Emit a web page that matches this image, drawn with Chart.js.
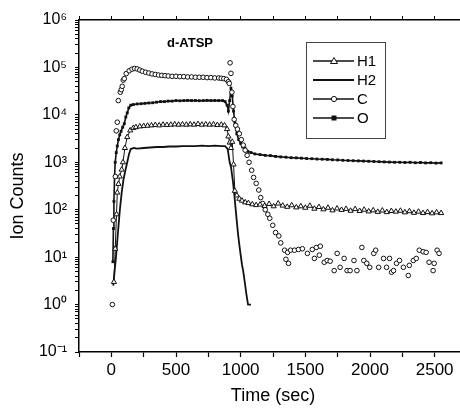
<!DOCTYPE html>
<html>
<head>
<meta charset="utf-8">
<script src="https://cdn.jsdelivr.net/npm/chart.js@4.4.1/dist/chart.umd.min.js"></script>
<style>
  html, body { margin: 0; padding: 0; background: #fff; }
  #wrap { width: 460px; height: 411px; overflow: hidden; }
</style>
</head>
<body>
<div id="wrap"><canvas id="chart" width="472" height="411"></canvas></div>
<script>
// ---- data (time in sec, ion counts) ----
const panelTitle = "d-ATSP";
const seriesNames = ["H1", "H2", "C", "O"];

const h1Time = [20, 30, 40, 46, 55, 65, 80, 90, 105, 123, 146, 170, 190, 220, 250, 280, 310, 340, 370, 400,
  430, 460, 490, 520, 550, 580, 610, 640, 670, 700, 730, 760, 790, 820, 850, 875, 895, 905, 915, 925,
  935, 945, 955, 970, 990, 1010, 1035, 1060, 1090, 1120, 1150, 1185, 1220, 1255, 1290, 1325, 1360, 1395, 1430, 1465,
  1500, 1535, 1570, 1605, 1640, 1675, 1710, 1745, 1780, 1815, 1850, 1885, 1920, 1955, 1990, 2025, 2060, 2095, 2130, 2165,
  2200, 2235, 2270, 2305, 2340, 2375, 2410, 2445, 2480, 2515, 2550];
const h1Counts = [3, 15, 80, 230, 350, 500, 700, 1000, 2000, 3400, 4700, 5300, 5500, 5700, 5800, 5900, 6000, 6100, 6000, 6200,
  6100, 6200, 6300, 6200, 6300, 6200, 6300, 6200, 6400, 6200, 6300, 6200, 6300, 6100, 6200, 6000, 5000, 3500, 2600, 2000,
  2700, 900, 250, 200, 170, 155, 143, 138, 130, 125, 128, 120, 132, 118, 135, 122, 115, 124, 112, 118,
  110, 121, 105, 114, 102, 110, 97, 106, 99, 104, 95, 103, 94, 100, 92, 97, 90, 96, 89, 94,
  91, 95, 88, 93, 86, 91, 85, 89, 84, 88, 85];

const h2Time = [15, 25, 36, 50, 66, 80, 95, 110, 123, 137, 150, 175, 200, 250, 300, 350, 400, 450, 500, 550,
  600, 650, 700, 750, 800, 850, 880, 900, 915, 925, 940, 950, 965, 980, 995, 1010, 1020, 1033, 1045, 1057, 1080];
const h2Counts = [2.5, 5, 10, 30, 100, 230, 450, 700, 1000, 1500, 1900, 2000, 1950, 2000, 2050, 2100, 2100, 2150, 2150, 2200,
  2200, 2200, 2250, 2200, 2250, 2200, 2200, 1900, 1000, 800, 400, 220, 80, 30, 14, 7, 5, 2.8, 1.6, 1, 1];

const cTime = [8, 15, 31, 38, 46, 54, 69, 77, 84, 92, 100, 115, 138, 160, 180, 200, 220, 240, 265, 290,
  315, 340, 365, 390, 415, 440, 470, 500, 530, 560, 590, 620, 650, 680, 710, 740, 770, 800, 830, 850,
  870, 890, 905, 912, 918, 925, 932, 940, 950, 962, 975, 990, 1005, 1020, 1035, 1050, 1065, 1085, 1100, 1120,
  1140, 1155, 1170, 1190, 1210, 1225, 1248, 1270, 1295, 1310, 1340, 1350, 1363, 1370, 1386, 1416, 1447, 1477, 1516, 1554,
  1570, 1585, 1608, 1616, 1646, 1669, 1692, 1723, 1746, 1769, 1800, 1823, 1846, 1876, 1899, 1937, 1952, 1975, 1998, 2029,
  2044, 2067, 2105, 2128, 2151, 2167, 2182, 2205, 2228, 2258, 2296, 2304, 2335, 2358, 2381, 2411, 2434, 2457, 2488, 2496,
  2519, 2534];
const cCounts = [1, 60, 500, 4600, 7000, 20000, 30000, 34000, 40000, 54000, 58000, 74000, 85000, 92000, 95000, 93000, 88000, 83000, 79000, 76000,
  73000, 71000, 69000, 68000, 67000, 66000, 65000, 65000, 64000, 64000, 63000, 63000, 62000, 62000, 62000, 61000, 61000, 60000, 60000, 59000,
  58000, 56000, 50000, 46000, 125000, 75000, 30000, 15000, 8000, 6000, 5000, 4000, 3000, 2300, 1800, 1400, 1000, 680, 480, 360,
  260, 180, 135, 100, 80, 66, 47, 33, 28, 20, 14, 9, 12.6, 7.4, 14, 14, 14.5, 15, 12, 14.5,
  9.4, 16, 11, 17, 7.8, 8.5, 8.2, 5.2, 12, 6.1, 9.4, 5.2, 5.2, 8.5, 5.2, 16, 8.5, 7.4, 6.1, 12,
  14, 6.1, 9.4, 6.1, 9.4, 4.8, 5.2, 7.4, 8.5, 6.1, 4.1, 6.7, 8.5, 9.4, 14, 13, 12.6, 7.8, 5.2, 7.4,
  14, 12];

const oTime = [12, 16, 20, 25, 30, 38, 46, 55, 65, 75, 88, 100, 112, 123, 135, 150, 170, 200, 230, 260,
  290, 320, 350, 380, 410, 440, 470, 500, 530, 560, 590, 620, 650, 680, 710, 740, 770, 800, 830, 860,
  880, 895, 905, 915, 925, 935, 945, 955, 970, 985, 1000, 1015, 1033, 1055, 1080, 1110, 1150, 1190, 1230, 1270,
  1310, 1350, 1390, 1430, 1470, 1510, 1550, 1590, 1630, 1670, 1710, 1750, 1790, 1830, 1870, 1910, 1950, 1990, 2030, 2070,
  2110, 2150, 2190, 2230, 2270, 2310, 2350, 2390, 2430, 2470, 2510, 2550];
const oCounts = [8, 40, 150, 500, 1000, 1600, 2200, 3000, 3800, 4500, 5500, 6500, 9000, 11000, 14000, 16000, 16500, 17000, 17200, 17500,
  17800, 18000, 18500, 19000, 19000, 19500, 19500, 20000, 19800, 20000, 20200, 20000, 20100, 19900, 20000, 20200, 20000, 20100, 20000, 20000,
  19000, 16000, 12000, 20000, 36000, 25000, 12000, 7000, 4000, 3000, 2500, 2100, 2000, 1700, 1600, 1500, 1450, 1400, 1380, 1330,
  1300, 1280, 1250, 1240, 1220, 1200, 1190, 1170, 1160, 1150, 1130, 1120, 1100, 1090, 1080, 1070, 1060, 1050, 1040, 1030,
  1020, 1010, 1000, 1000, 990, 1000, 980, 990, 970, 980, 960, 970];

// ---- axes ----
const xMin = -250, xMax = 2750, xStep = 250;
const xTickLabels = [0, 500, 1000, 1500, 2000, 2500];
const yMin = 0.1, yMax = 1e6;
const yTickLabels = ["10\u207B\u00B9", "10\u2070", "10\u00B9", "10\u00B2", "10\u00B3", "10\u2074", "10\u2075", "10\u2076"];

const FONT = '"Liberation Sans", Arial, Helvetica, sans-serif';
Chart.defaults.font.family = FONT;
Chart.defaults.color = "#000";

const pts = (xs, ys) => xs.map((x, i) => ({ x: x, y: ys[i] }));

const xTicks = [];
for (let v = xMin; v <= xMax; v += xStep) xTicks.push({ value: v });
const yTicks = [];
for (let e = -1; e < 6; e++) {
  for (let k = 1; k < 10; k++) yTicks.push({ value: k * Math.pow(10, e) });
}
yTicks.push({ value: yMax });

function yLabel(value) {
  const e = Math.log10(value);
  if (Math.abs(e - Math.round(e)) > 1e-6) return "";
  const idx = Math.round(e) + 1;
  return yTickLabels[idx] || "";
}

const datasets = [
  {
    label: seriesNames[0],
    data: pts(h1Time, h1Counts),
    borderColor: "#111",
    borderWidth: 1,
    pointStyle: "triangle",
    pointRadius: 3,
    pointBackgroundColor: "#fff",
    pointBorderColor: "#111",
    pointBorderWidth: 1,
  },
  {
    label: seriesNames[1],
    data: pts(h2Time, h2Counts),
    borderColor: "#111",
    borderWidth: 1.8,
    pointRadius: 0,
  },
  {
    label: seriesNames[2],
    data: pts(cTime, cCounts),
    showLine: false,
    pointStyle: "circle",
    pointRadius: 2.3,
    pointBackgroundColor: "#fff",
    pointBorderColor: "#111",
    pointBorderWidth: 1,
  },
  {
    label: seriesNames[3],
    data: pts(oTime, oCounts),
    borderColor: "#111",
    borderWidth: 1.6,
    pointStyle: "rect",
    pointRadius: 2,
    pointBackgroundColor: "#111",
    pointBorderColor: "#111",
    pointBorderWidth: 0,
  },
];

// title and legend box drawn inside the plot
const insidePlugin = {
  id: "insideText",
  afterDraw(chart) {
    const ctx = chart.ctx;
    ctx.save();
    ctx.fillStyle = "#000";
    ctx.font = "bold 13px " + FONT;
    ctx.textAlign = "center";
    ctx.textBaseline = "middle";
    ctx.fillText(panelTitle, 190, 43);

    // legend
    ctx.strokeStyle = "#444";
    ctx.lineWidth = 1;
    ctx.strokeRect(306.5, 42.5, 79, 96);
    const rows = [61, 80, 99, 118];
    ctx.font = "15px " + FONT;
    ctx.textAlign = "left";
    seriesNames.forEach((name, i) => {
      const y = rows[i];
      ctx.strokeStyle = "#111";
      ctx.lineWidth = i === 1 ? 1.8 : 1.4;
      ctx.beginPath();
      ctx.moveTo(313, y);
      ctx.lineTo(354, y);
      ctx.stroke();
      ctx.lineWidth = 1;
      const mx = 334;
      if (i === 0) {
        ctx.beginPath();
        ctx.moveTo(mx, y - 3.5);
        ctx.lineTo(mx + 3.5, y + 2.5);
        ctx.lineTo(mx - 3.5, y + 2.5);
        ctx.closePath();
        ctx.fillStyle = "#fff";
        ctx.fill();
        ctx.stroke();
      } else if (i === 2) {
        ctx.beginPath();
        ctx.arc(mx, y, 2.6, 0, Math.PI * 2);
        ctx.fillStyle = "#fff";
        ctx.fill();
        ctx.stroke();
      } else if (i === 3) {
        ctx.fillStyle = "#111";
        ctx.fillRect(mx - 2.5, y - 2.5, 5, 5);
      }
      ctx.fillStyle = "#000";
      ctx.fillText(name, 357, y + 1);
    });
    ctx.restore();
  },
};

new Chart(document.getElementById("chart"), {
  type: "line",
  data: { datasets: datasets },
  options: {
    responsive: false,
    animation: false,
    layout: { padding: { top: 20, right: 1, bottom: 0, left: 0 } },
    plugins: {
      legend: { display: false },
      tooltip: { enabled: false },
    },
    scales: {
      x: {
        type: "linear",
        position: "bottom",
        min: xMin,
        max: xMax,
        afterBuildTicks: (scale) => { scale.ticks = xTicks.map((t) => ({ value: t.value })); },
        afterFit: (scale) => { scale.height = 59; },
        ticks: {
          autoSkip: false,
          maxRotation: 0,
          padding: 3,
          font: { size: 17 },
          callback: (value) => (xTickLabels.includes(value) ? String(value) : ""),
        },
        grid: { drawOnChartArea: false, tickLength: 5, color: "#000", tickWidth: 1.2 },
        border: { color: "#000", width: 1.5 },
        title: { display: true, text: "Time (sec)", font: { size: 18 }, padding: { top: 0, bottom: 4 } },
      },
      xTop: {
        type: "linear",
        position: "top",
        min: xMin,
        max: xMax,
        afterBuildTicks: (scale) => { scale.ticks = xTicks.map((t) => ({ value: t.value })); },
        afterFit: (scale) => { scale.height = 0; },
        ticks: { display: false },
        grid: { drawOnChartArea: false, tickLength: 4, color: "#000" },
        border: { color: "#000", width: 1.5 },
      },
      y: {
        type: "logarithmic",
        position: "left",
        min: yMin,
        max: yMax,
        afterBuildTicks: (scale) => { scale.ticks = yTicks.map((t) => ({ value: t.value })); },
        afterFit: (scale) => { scale.width = 79; },
        ticks: {
          autoSkip: false,
          padding: 8,
          font: { size: 16 },
          callback: (value) => yLabel(value),
        },
        grid: { drawOnChartArea: false, tickLength: 4, color: "#000" },
        border: { color: "#000", width: 1.5 },
        // trailing spaces push the centred label a little lower, as in the figure
        title: { display: true, text: "Ion Counts\u00A0\u00A0\u00A0\u00A0", font: { size: 18 }, padding: { top: 7, bottom: 0 } },
      },
    },
  },
  plugins: [insidePlugin],
});
</script>
</body>
</html>
